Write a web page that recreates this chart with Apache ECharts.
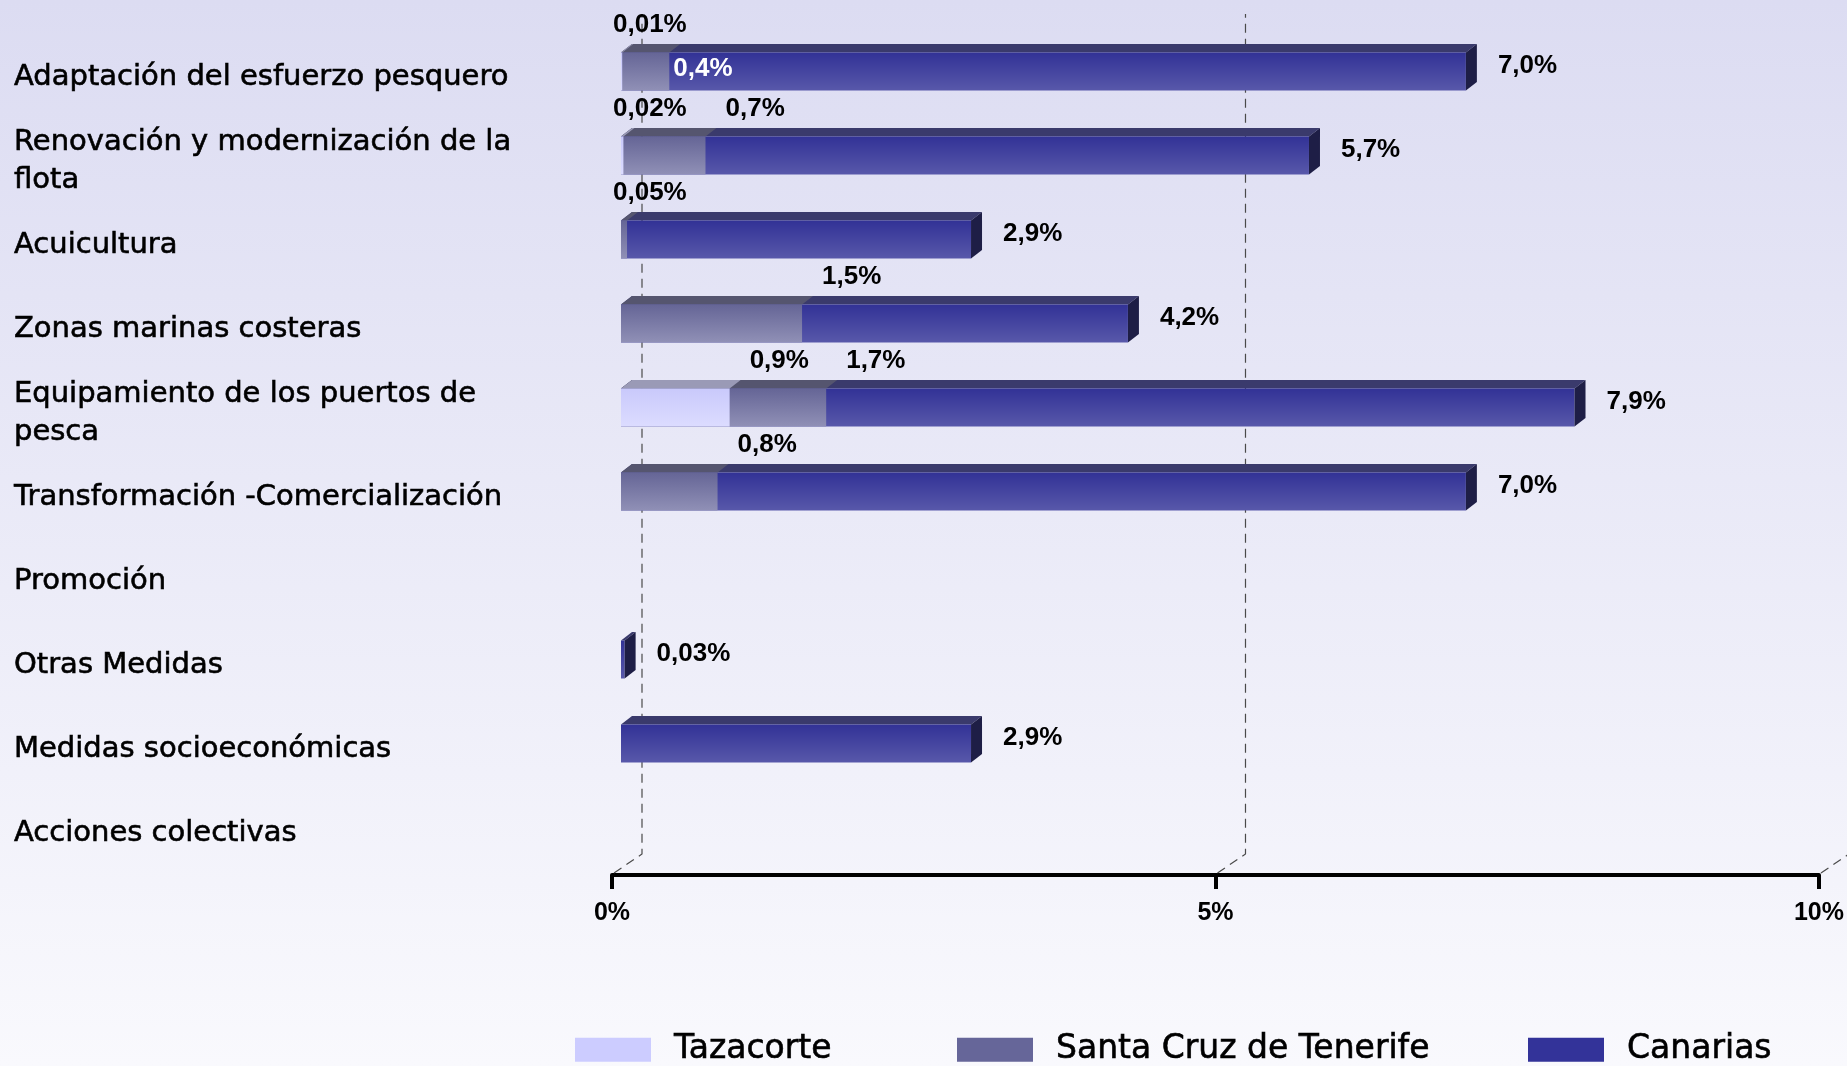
<!DOCTYPE html>
<html>
<head>
<meta charset="utf-8">
<script src="https://cdn.jsdelivr.net/npm/echarts@6/dist/echarts.min.js"></script>
<style>
  html, body { margin: 0; padding: 0; }
  #chart {
    width: 1847px;
    height: 1066px;
    background: linear-gradient(to bottom, #dcdcf2 0%, #f9f9fd 100%);
  }
</style>
</head>
<body>
<div id="chart"></div>
<script>
// categorias (eje Y, de arriba a abajo)
var categories = [
  'Adaptación del esfuerzo pesquero',
  'Renovación y modernización de la\nflota',
  'Acuicultura',
  'Zonas marinas costeras',
  'Equipamiento de los puertos de\npesca',
  'Transformación -Comercialización',
  'Promoción',
  'Otras Medidas',
  'Medidas socioeconómicas',
  'Acciones colectivas'
]

// porcentajes por serie (null = sin barra)
var tazacorte = [0.01, 0.02, null, null, 0.9, null, null, null, null, null]
var santaCruz = [0.4, 0.7, 0.05, 1.5, 1.7, 0.8, null, null, null, null]
var canarias = [7.0, 5.7, 2.9, 4.2, 7.9, 7.0, null, 0.03, 2.9, null]

var xTicks = [0, 5, 10]

// aspecto de cada serie
var looks = {
  taz: { front: ['#c9c9fb', '#dcdcff'], top: '#9a9ab6', side: '#8a8ab0', legend: '#ccccff' },
  sc: { front: ['#656596', '#9090b6'], top: '#55556f', side: '#3d3d5c', legend: '#666699' },
  can: { front: ['#323296', '#5858aa'], top: '#3a3a6c', side: '#1e1e46', legend: '#333399' }
}
var valuesOf = { taz: tazacorte, sc: santaCruz, can: canarias }

var DX = 11, DY = 8.5, H = 38, SHIFT = 9, LIFT = 5.5
var valueFont = 'bold 26px "Liberation Sans", Arial, sans-serif'

function fmt(v) {
  return (v < 0.1 ? v.toFixed(2) : v.toFixed(1)).replace('.', ',') + '%'
}

// ancho aproximado de la etiqueta en Liberation Sans Bold 26px
function textW(s) {
  var w = 0
  for (var i = 0; i < s.length; i++) {
    var c = s[i]
    w += c === ',' ? 0.278 : (c === '%' ? 0.889 : 0.556)
  }
  return w * 26
}

function aboveLeft(v, x0, x1) {
  return v < 0.1 ? x0 - 8 : x1 + 20
}

function isLongest(key, ci) {
  var v = valuesOf[key][ci]
  var keys = ['taz', 'sc', 'can']
  for (var i = 0; i < keys.length; i++) {
    var o = valuesOf[keys[i]][ci]
    if (keys[i] !== key && o != null && o > v) return false
  }
  return true
}

function toData(arr) {
  var out = []
  arr.forEach(function (v, i) {
    if (v != null) out.push([v, i])
  })
  return out
}

function makeRender(key) {
  return function (params, api) {
    var v = api.value(0)
    var ci = api.value(1)
    var p0 = api.coord([0, ci])
    var p1 = api.coord([v, ci])
    var x0 = p0[0] + SHIFT
    var x1 = p1[0] + SHIFT
    var cy = p0[1] - LIFT
    var top = cy - H / 2
    var bot = cy + H / 2
    var look = looks[key]
    var children = [
      {
        type: 'polygon',
        shape: { points: [[x0, top], [x1, top], [x1 + DX, top - DY], [x0 + DX, top - DY]] },
        style: { fill: look.top }
      },
      {
        type: 'rect',
        shape: { x: x0, y: top, width: x1 - x0, height: H },
        style: {
          fill: new echarts.graphic.LinearGradient(0, 0, 0, 1, [
            { offset: 0, color: look.front[0] },
            { offset: 1, color: look.front[1] }
          ])
        }
      }
    ]
    if (isLongest(key, ci)) {
      children.push({
        type: 'polygon',
        shape: { points: [[x1, top], [x1 + DX, top - DY], [x1 + DX, bot - DY], [x1, bot]] },
        style: { fill: look.side }
      })
    }

    // etiqueta del valor
    var lx, ly, col = '#000'
    if (key === 'can') {
      lx = x1 + 32
      ly = cy - 6
    } else {
      lx = aboveLeft(v, x0, x1)
      ly = top - 28
      var t = tazacorte[ci]
      if (key === 'sc' && t != null) {
        var tx1 = api.coord([t, ci])[0] + SHIFT
        var tRight = aboveLeft(t, x0, tx1) + textW(fmt(t))
        if (lx < tRight + 15) {
          // no cabe encima: dentro de la barra
          lx = x1 + 4
          ly = cy - 3
          col = '#fff'
        }
      }
    }
    children.push({
      type: 'text',
      z2: 10,
      style: {
        text: fmt(v), x: lx, y: ly, fill: col, font: valueFont,
        align: 'left', verticalAlign: 'middle'
      }
    })
    return { type: 'group', children: children }
  }
}

// lineas discontinuas de la pared del fondo
function renderGrid(params, api) {
  var x = api.coord([api.value(0), 0])[0]
  var cs = params.coordSys
  var base = cs.y + cs.height
  return {
    type: 'polyline',
    shape: { points: [[x + 2, base - 2], [x + 30, base - 21], [x + 30, 14]] },
    style: { stroke: '#4a4a4a', lineWidth: 1.2, lineDash: [9, 6], fill: null }
  }
}

function barSeries(name, key) {
  return {
    name: name,
    type: 'custom',
    renderItem: makeRender(key),
    encode: { x: 0, y: 1 },
    itemStyle: { color: looks[key].legend },
    data: toData(valuesOf[key])
  }
}

var legendBase = {
  top: 1033,
  padding: 0,
  icon: 'rect',
  itemWidth: 76,
  itemHeight: 24,
  selectedMode: false,
  textStyle: {
    fontFamily: 'DejaVu Sans', fontSize: 33, color: '#000',
    textBorderColor: '#000', textBorderWidth: 0.6, padding: [0, 0, 0, 18]
  }
}

var chart = echarts.init(document.getElementById('chart'))
chart.setOption({
  animation: false,
  backgroundColor: 'transparent',
  grid: { left: 612, right: 27, top: 35, bottom: 191, containLabel: false },
  legend: [
    Object.assign({ data: ['Tazacorte'], left: 575 }, legendBase),
    Object.assign({ data: ['Santa Cruz de Tenerife'], left: 957 }, legendBase),
    Object.assign({ data: ['Canarias'], left: 1528 }, legendBase)
  ],
  xAxis: {
    type: 'value',
    min: 0,
    max: 10,
    interval: 5,
    axisLine: { show: true, lineStyle: { color: '#000', width: 4 } },
    axisTick: { show: true, length: 14, lineStyle: { color: '#000', width: 4 } },
    axisLabel: {
      formatter: '{value}%',
      margin: 26,
      fontFamily: 'Liberation Sans',
      fontWeight: 'bold',
      fontSize: 25,
      color: '#000'
    },
    splitLine: { show: false }
  },
  yAxis: {
    type: 'category',
    data: categories,
    inverse: true,
    axisLine: { show: false },
    axisTick: { show: false },
    axisLabel: {
      interval: 0,
      align: 'left',
      margin: 598,
      fontFamily: 'DejaVu Sans',
      fontSize: 29,
      lineHeight: 38,
      color: '#000',
      textBorderColor: '#000',
      textBorderWidth: 0.6,
      padding: [16, 0, 0, 0]
    }
  },
  series: [
    {
      type: 'custom',
      renderItem: renderGrid,
      encode: { x: 0 },
      data: xTicks.map(function (t) { return [t] }),
      silent: true
    },
    barSeries('Canarias', 'can'),
    barSeries('Santa Cruz de Tenerife', 'sc'),
    barSeries('Tazacorte', 'taz')
  ]
})
</script>
</body>
</html>
